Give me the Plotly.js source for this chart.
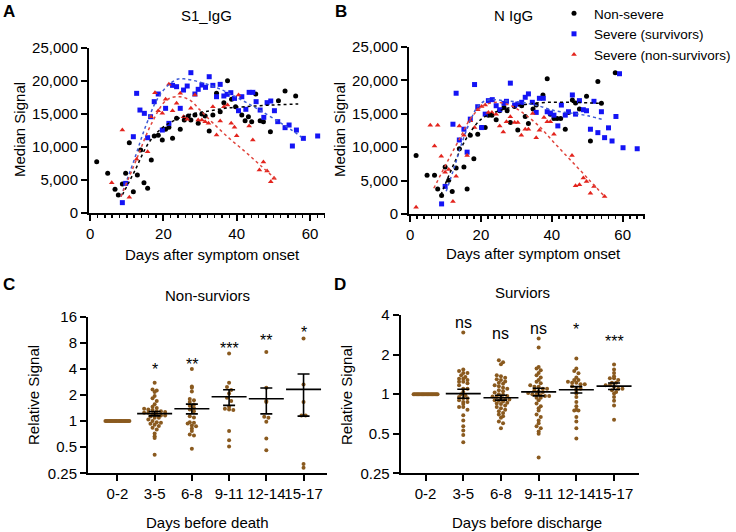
<!DOCTYPE html>
<html><head><meta charset="utf-8">
<script src="https://cdn.plot.ly/plotly-3.0.1.min.js"></script>
<style>html,body{margin:0;padding:0;background:#fff}#chart{width:736px;height:532px}</style>
</head><body><div id="chart"></div>
<script>
// ---------- Panel A : S1_IgG ----------
const a_ns_day = [1.8,4.8,6.8,7.7,8.8,9.7,10.7,11.8,12.9,13.8,14.7,15.7,16.7,17.5,18.6,19.7,20.6,21.5,22.5,23.6,24.6,25.7,26.8,27.5,28.6,29.5,30.5,31.4,32.5,33.5,34.5,35.5,36.5,37.5,38.6,39.7,41.4,42.3,43.2,44.1,45.2,46.4,47.3,49.2,51.4,53.2,56.1];
const a_ns_sig = [7780,6010,3590,2730,4390,6010,10650,3230,5760,9540,4600,3740,8030,11670,11770,11060,12680,12980,11310,14340,12680,14090,14700,14090,14850,13580,15000,14700,12420,14850,18130,15350,16720,20050,17220,16110,14850,13990,14590,13840,18030,13990,13840,12320,17020,18480,17730];
const a_sv_day = [8.8,9.7,11.8,12.7,13.6,14.8,15.7,16.5,17.5,18.6,19.7,20.6,21.5,22.5,23.6,24.6,25.5,26.5,27.5,28.6,29.5,30.5,31.5,32.5,33.5,34.5,35.5,36.5,37.4,38.4,39.4,40.5,41.4,42.5,43.4,44.4,45.3,46.4,47.4,48.3,49.3,50.3,51.2,53.2,54.3,55.2,56.3,58.2,62.1];
const a_sv_sig = [1570,4490,11560,18130,15600,15100,11410,14590,16870,18030,12570,15860,13580,19340,19140,15860,18630,19240,21260,18030,18740,19390,19040,20650,19340,17620,19490,17730,17980,18230,17370,15500,17620,15710,18280,18280,16870,15600,14490,16720,16970,15500,13840,12930,13330,10150,12570,11310,11670];
const a_nsv_day = [5.9,8.8,10.7,12.7,15.7,16.6,17.7,18.6,19.7,20.6,21.5,22.5,23.6,24.6,25.5,26.5,27.5,28.6,29.5,30.5,31.4,32.3,33.5,34.5,35.5,36.5,37.5,38.5,39.4,40.0,40.5,43.4,44.4,46.2,47.3,48.3,49.3,50.2];
const a_nsv_sig = [4600,12570,2370,8130,9290,14590,18230,15500,15100,17220,19490,15500,16620,18130,14590,14190,15860,17880,14090,14090,13840,13580,16110,11820,13940,16110,16360,13580,12980,11700,17880,13180,11060,6510,7730,6360,4750,5250];
const a_ns_fit_day = [8.8,12.3,15.9,19.5,23.2,26.8,31.4,36.8,42.3,49.5,56.8];
const a_ns_fit_sig = [2730,6510,10550,12830,14090,14850,15350,15860,16110,16360,16510];
const a_sv_fit_day = [8.4,12,15,18.2,21,24,26,29.5,35,40.5,45.9,51.4,55,57.7];
const a_sv_fit_sig = [2470,8000,12900,17120,19200,20300,20300,19900,18890,17370,15710,13840,12570,11470];
const a_nsv_fit_day = [8.4,12.6,16.8,20.9,24.5,27.5,30,33.6,38,42.3,46.5,50.9];
const a_nsv_fit_sig = [2470,8030,13590,17120,17620,17000,15600,13590,11300,9300,7200,5000];

// ---------- Panel B : N IgG ----------
const b_ns_day = [1.7,4.8,6.9,7.8,8.9,9.9,10.9,11.9,13.0,13.9,15.2,16.1,17.0,18.0,19.1,20.2,21.2,22.1,23.1,24.3,25.3,26.5,27.4,28.3,29.5,30.4,31.5,32.5,33.4,34.7,35.6,37.5,38.7,39.6,40.6,41.5,42.5,43.8,44.7,45.8,46.7,47.8,49.8,50.9,53.0,54.0,57.9];
const b_ns_sig = [8760,5790,5790,3730,2770,7050,5040,3370,6900,9770,7050,3730,11780,8260,11930,12940,12940,14800,14800,14100,15460,15960,15460,13700,16110,12590,16210,14600,13540,15710,16310,17820,20240,14950,14300,14300,14300,12690,15210,17070,16620,15710,17620,10930,19840,16570,21150];
const b_sv_day = [8.9,9.9,12.1,13.0,13.9,15.2,16.1,17.0,18.2,19.1,20.2,21.2,22.1,23.2,24.3,25.3,26.5,27.2,28.3,29.5,30.4,31.5,32.5,33.4,34.5,35.6,36.5,37.6,38.7,39.6,40.6,41.7,42.7,43.8,44.7,45.8,46.7,47.8,48.9,49.8,50.9,51.9,53.0,54.0,54.9,56.0,57.0,58.1,59.1,60.1,64.1];
const b_sv_sig = [1510,4130,13440,18080,11080,12690,9260,14200,19380,16060,12940,14950,16970,17120,16210,15610,16570,16870,19590,16310,16460,16720,17470,17980,16720,15210,17320,17320,15310,15100,14800,13190,16310,14800,15310,17820,14950,16970,15610,15460,12690,16870,12180,15310,11430,12900,10930,14600,21000,9920,9770];
const b_nsv_day = [1.7,5.7,7.8,6.9,8.8,9.9,10.9,12.1,13.0,13.9,15.2,16.1,17.0,18.2,19.1,20.2,21.2,22.1,23.1,24.3,25.3,26.3,27.2,28.3,29.5,30.4,31.4,32.5,33.4,34.6,35.6,36.5,37.8,38.7,39.6,40.6,45.7,46.7,47.8,48.9,49.8,50.9,51.9,54.9];
const b_nsv_sig = [1010,13290,13290,10170,8660,6240,6650,1860,5640,13190,11780,8760,13950,12940,15610,16110,16310,15210,15210,14950,13190,12290,13800,14550,13700,13700,11780,12690,12690,15060,11430,12540,14450,13800,13800,11930,8760,4230,4380,5390,4880,3120,4130,2620];
const b_ns_fit_day = [8.7,12.5,16.3,20.1,23.8,28.5,33.2,38.9,45.5,51.1,54];
const b_ns_fit_sig = [2850,7650,11680,14200,15210,15960,16460,16720,16720,16620,16570];
const b_sv_fit_day = [10.2,12.5,14.4,17.2,19,21,23.1,26.6,31.4,36.1,40.8,45.5,50.2,54.9];
const b_sv_fit_sig = [3400,7000,10300,14200,16000,16900,17120,16970,16720,16210,15460,15100,14700,14050];
const b_nsv_fit_day = [6.7,10.6,14.4,16.8,19,21,24.8,28.5,31.4,36.1,40.8,45.5,50.2,54.9];
const b_nsv_fit_sig = [3850,7900,11700,14100,15500,16300,16720,16210,15300,13300,10600,7950,5300,2620];

// ---------- Panels C / D ----------
const cats = ['0-2','3-5','6-8','9-11','12-14','15-17'];
const c_0_2 = [1,1,1,1,1,1,1,1,1,1,1,1,1,1,1,1,1,1,1,1];
const c_3_5 = [2.77,2.32,2.26,2.16,1.95,1.83,1.7,1.56,1.46,1.42,1.39,1.36,1.34,1.3,1.3,1.27,1.25,1.25,1.21,1.19,1.16,1.16,1.13,1.09,1.09,1.04,1.0,0.97,0.96,0.93,0.91,0.88,0.84,0.8,0.72,0.67,0.64,0.41];
const c_6_8 = [4.0,2.5,2.42,2.2,1.8,1.74,1.66,1.55,1.5,1.42,1.36,1.3,1.14,1.1,0.97,0.96,0.94,0.89,0.87,0.82,0.77,0.7,0.68,0.48];
const c_9_11 = [6.03,2.77,2.47,2.28,2.08,1.86,1.70,1.46,1.39,1.36,1.34,0.77,0.60,0.51];
const c_12_14 = [6.25,2.42,1.70,1.66,1.12,1.09,0.98,0.63,0.46];
const c_15_17 = [8.98,2.65,1.66,1.16,1.16,0.32,0.29];
const c_mean = [1.22,1.39,1.91,1.81,2.32];
const c_sem = [0.07,0.18,0.39,0.6,1.18];
const c_sig = ['*','**','***','**','*'];

const d_0_2 = [1,1,1,1,1,1,1,1,1,1,1,1,1,1,1,1,1,1,1,1];
const d_3_5 = [2.94,1.54,1.50,1.45,1.45,1.39,1.35,1.31,1.31,1.28,1.24,1.24,1.21,1.17,1.10,1.10,1.04,1.0,0.98,0.95,0.93,0.93,0.90,0.87,0.87,0.84,0.80,0.80,0.76,0.69,0.63,0.57,0.53,0.49,0.43];
const d_6_8 = [1.81,1.75,1.69,1.39,1.37,1.33,1.3,1.28,1.25,1.22,1.2,1.17,1.15,1.12,1.1,1.07,1.05,1.03,1.0,0.99,0.97,0.96,0.95,0.94,0.92,0.91,0.9,0.89,0.88,0.86,0.85,0.84,0.82,0.8,0.78,0.76,0.74,0.72,0.7,0.68,0.66,0.62,0.6,0.55];
const d_9_11 = [2.65,2.26,1.61,1.57,1.52,1.45,1.39,1.34,1.28,1.24,1.21,1.17,1.14,1.14,1.10,1.10,1.07,1.05,1.04,1.02,1.0,1.0,0.98,0.97,0.97,0.94,0.94,0.90,0.85,0.81,0.78,0.75,0.70,0.67,0.63,0.60,0.57,0.55,0.52,0.50,0.33];
const d_12_14 = [1.87,1.57,1.50,1.44,1.34,1.28,1.28,1.24,1.22,1.22,1.19,1.19,1.15,1.10,1.10,1.06,1.01,0.95,0.87,0.81,0.76,0.75,0.75,0.67,0.62,0.55,0.46];
const d_15_17 = [1.68,1.54,1.45,1.37,1.32,1.32,1.28,1.22,1.22,1.17,1.17,1.14,1.10,1.10,1.07,1.04,1.01,0.95,0.89,0.82,0.64];
const d_mean = [1.01,0.94,1.04,1.08,1.15];
const d_sem = [0.08,0.04,0.07,0.06,0.065];
const d_sig = ['ns','ns','ns','*','***'];

// ---------- build ----------
const F = 'Arial, "Liberation Sans", sans-serif';
const W = 736, H = 532;
const PX = p => p / W, PY = p => 1 - p / H;
const BLACK = '#000000', BLUE = '#1414f5', RED = '#e3241d', BROWN = '#8a5a1f';

const dom = {
  A: {x: [89, 325], y: [48, 213]},
  B: {x: [409, 645], y: [47, 214]},
  C: {x: [88, 327], y: [316.7, 473.3]},
  D: {x: [400.7, 639.3], y: [315, 473.3]}
};
const rng = {
  Ax: [-0.3, 64.1], Bx: [-0.3, 66.3],
  Cx: [-0.79, 5.63], Dx: [-0.66, 5.67],
  Cy: [0.25, 16], Dy: [0.25, 4]
};

const traces = [];
function pts(x, y, xa, ya, color, symbol, name, show) {
  traces.push({type: 'scatter', mode: 'markers', x, y, xaxis: xa, yaxis: ya, name, showlegend: show,
    marker: {color, symbol, size: 5, line: {width: 0}}, cliponaxis: false, hoverinfo: 'skip'});
}
function fit(x, y, xa, ya, color) {
  traces.push({type: 'scatter', mode: 'lines', x, y, xaxis: xa, yaxis: ya, showlegend: false,
    line: {color, width: 1.5, dash: 'dot', shape: 'spline'}, hoverinfo: 'skip'});
}
pts(a_ns_day, a_ns_sig, 'x', 'y', BLACK, 'circle', 'Non-severe', true);
pts(a_sv_day, a_sv_sig, 'x', 'y', BLUE, 'square', 'Severe (survivors)', true);
pts(a_nsv_day, a_nsv_sig, 'x', 'y', RED, 'triangle-up', 'Severe (non-survivors)', true);
fit(a_ns_fit_day, a_ns_fit_sig, 'x', 'y', BLACK);
fit(a_sv_fit_day, a_sv_fit_sig, 'x', 'y', '#3d5ad6');
fit(a_nsv_fit_day, a_nsv_fit_sig, 'x', 'y', '#e0443c');
pts(b_ns_day, b_ns_sig, 'x2', 'y2', BLACK, 'circle', 'Non-severe', false);
pts(b_sv_day, b_sv_sig, 'x2', 'y2', BLUE, 'square', 'Severe (survivors)', false);
pts(b_nsv_day, b_nsv_sig, 'x2', 'y2', RED, 'triangle-up', 'Severe (non-survivors)', false);
fit(b_ns_fit_day, b_ns_fit_sig, 'x2', 'y2', BLACK);
fit(b_sv_fit_day, b_sv_fit_sig, 'x2', 'y2', '#3d5ad6');
fit(b_nsv_fit_day, b_nsv_fit_sig, 'x2', 'y2', '#e0443c');

// beeswarm-like row layout (GraphPad style), computed from the values
function swarm(vals, idx, pxPerCat, pxPerOct, rowH, dx, maxW) {
  const rows = {};
  vals.forEach((v, i) => {
    const r = Math.round(Math.log2(v) * pxPerOct / rowH);
    (rows[r] = rows[r] || []).push(i);
  });
  const xs = new Array(vals.length);
  Object.values(rows).forEach(list => {
    const n = list.length;
    let sp = dx;
    if (n > 1 && (n - 1) * sp > maxW) sp = maxW / (n - 1);
    list.forEach((i, j) => { xs[i] = idx + ((j - (n - 1) / 2) * sp) / pxPerCat; });
  });
  return xs;
}
function panelDots(groups, xa, ya, d, r) {
  const pxPerCat = (d.x[1] - d.x[0]) / (r.x[1] - r.x[0]);
  const pxPerOct = (d.y[1] - d.y[0]) / (Math.log2(r.y[1]) - Math.log2(r.y[0]));
  groups.forEach((g, i) => {
    traces.push({type: 'scatter', mode: 'markers', x: swarm(g, i, pxPerCat, pxPerOct, 3.6, 4.2, 24), y: g,
      xaxis: xa, yaxis: ya, showlegend: false, hoverinfo: 'skip', cliponaxis: false,
      marker: {color: BROWN, size: 4, line: {width: 0}}});
  });
}
function meanBars(means, sems, xa, ya) {
  traces.push({type: 'scatter', mode: 'markers', x: means.map((m, i) => i + 1), y: means,
    xaxis: xa, yaxis: ya, showlegend: false, hoverinfo: 'skip', cliponaxis: false,
    marker: {symbol: 'line-ew', size: 25, color: '#000', line: {width: 1.6, color: '#000'}},
    error_y: {type: 'data', array: sems, visible: true, color: '#000', thickness: 1.6, width: 6}});
}
panelDots([c_0_2, c_3_5, c_6_8, c_9_11, c_12_14, c_15_17], 'x3', 'y3', dom.C, {x: rng.Cx, y: rng.Cy});
meanBars(c_mean, c_sem, 'x3', 'y3');
panelDots([d_0_2, d_3_5, d_6_8, d_9_11, d_12_14, d_15_17], 'x4', 'y4', dom.D, {x: rng.Dx, y: rng.Dy});
meanBars(d_mean, d_sem, 'x4', 'y4');

function ax(extra) {
  return Object.assign({showline: true, linecolor: '#000', linewidth: 2, ticks: 'outside', ticklen: 6,
    tickwidth: 2, tickcolor: '#000', showgrid: false, zeroline: false, tickangle: 0, automargin: false,
    tickfont: {family: F, size: 15, color: '#000'}, fixedrange: true}, extra);
}
const minor = {dtick: 2, tick0: 0, ticks: 'outside', ticklen: 3, tickwidth: 1.5, tickcolor: '#000'};
const logVals = [0.25, 0.5, 1, 2, 4, 8, 16];
const lg = v => Math.log10(v);
const dx = k => [PX(dom[k].x[0]), PX(dom[k].x[1])];
const dy = k => [PY(dom[k].y[1]), PY(dom[k].y[0])];

const ann = [];
function txt(text, x, y, size, opts) {
  ann.push(Object.assign({text, x: PX(x), y: PY(y), xref: 'paper', yref: 'paper', showarrow: false,
    xanchor: 'center', yanchor: 'middle', font: {family: F, size, color: '#000'}}, opts || {}));
}
txt('<b>A</b>', 9, 12, 17);
txt('<b>B</b>', 341, 12, 17);
txt('<b>C</b>', 9, 284, 17);
txt('<b>D</b>', 340, 284, 17);
txt('S1_IgG', 206, 15, 15);
txt('N IgG', 513, 15, 15);
txt('Non-surviors', 208, 295, 15);
txt('Surviors', 522, 292, 15);
txt('Median Signal', 19, 130, 15, {textangle: -90});
txt('Median Signal', 339, 130, 15, {textangle: -90});
txt('Relative Signal', 34, 395, 15, {textangle: -90});
txt('Relative Signal', 347, 395, 15, {textangle: -90});
txt('Days after symptom onset', 212, 254, 15);
txt('Days after symptom onset', 533, 253, 15);
txt('Days before death', 207, 522, 15);
txt('Days before discharge', 527, 522, 15);
const cSigY = [365, 360, 344, 336, 328];
c_sig.forEach((s, i) => ann.push({text: s, x: i + 1, xref: 'x3', y: PY(cSigY[i] + 4), yref: 'paper', showarrow: false,
  xanchor: 'center', yanchor: 'middle', font: {family: F, size: 16, color: '#000'}}));
const dSigY = [322, 333, 328, 325 + 4, 337 + 4];
d_sig.forEach((s, i) => ann.push({text: s, x: i + 1, xref: 'x4', y: PY(dSigY[i]), yref: 'paper', showarrow: false,
  xanchor: 'center', yanchor: 'middle', font: {family: F, size: 16, color: '#000'}}));

const layout = {
  width: W, height: H, margin: {l: 0, r: 0, t: 0, b: 0, autoexpand: false}, paper_bgcolor: '#fff', plot_bgcolor: 'rgba(0,0,0,0)',
  font: {family: F, size: 15, color: '#000'}, showlegend: true,
  legend: {x: PX(554), y: PY(-2), xanchor: 'left', yanchor: 'top', bgcolor: 'rgba(0,0,0,0)',
    font: {family: F, size: 13.5, color: '#000'}},
  xaxis: ax({domain: dx('A'), range: rng.Ax, anchor: 'y', tick0: 0, dtick: 20, minor}),
  yaxis: ax({domain: dy('A'), range: [0, 25000], anchor: 'x', tick0: 0, dtick: 5000, tickformat: ','}),
  xaxis2: ax({domain: dx('B'), range: rng.Bx, anchor: 'y2', tick0: 0, dtick: 20, minor}),
  yaxis2: ax({domain: dy('B'), range: [0, 25000], anchor: 'x2', tick0: 0, dtick: 5000, tickformat: ','}),
  xaxis3: ax({domain: dx('C'), range: rng.Cx, anchor: 'y3', tickmode: 'array', tickvals: [0,1,2,3,4,5], ticktext: cats}),
  yaxis3: ax({domain: dy('C'), type: 'log', range: [lg(rng.Cy[0]), lg(rng.Cy[1])], anchor: 'x3',
    tickmode: 'array', tickvals: logVals, ticktext: logVals.map(String)}),
  xaxis4: ax({domain: dx('D'), range: rng.Dx, anchor: 'y4', tickmode: 'array', tickvals: [0,1,2,3,4,5], ticktext: cats}),
  yaxis4: ax({domain: dy('D'), type: 'log', range: [lg(rng.Dy[0]), lg(rng.Dy[1])], anchor: 'x4',
    tickmode: 'array', tickvals: logVals.slice(0, 5), ticktext: logVals.slice(0, 5).map(String)}),
  annotations: ann
};
Plotly.newPlot('chart', traces, layout, {displayModeBar: false, staticPlot: true});
</script></body></html>
